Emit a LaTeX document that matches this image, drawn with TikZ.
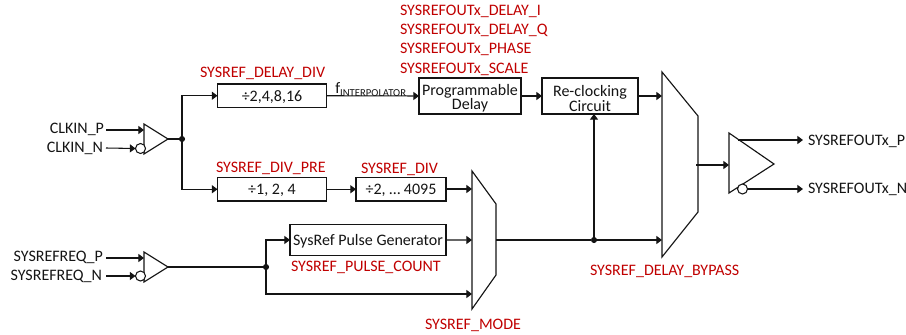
\documentclass[tikz,border=0pt]{standalone}
\usepackage{fontspec}
\setmainfont{Carlito}
\usetikzlibrary{arrows.meta}
\definecolor{regred}{RGB}{192,0,0}
\definecolor{ink}{RGB}{20,20,20}
\tikzset{
  x=0.75pt,y=-0.75pt,
  every node/.style={font=\fontsize{12pt}{13pt}\selectfont,text=ink,inner sep=0pt,outer sep=0pt,text height=10.2pt,text depth=1.8pt},
  wire/.style={draw=ink,line width=0.8pt,-{Triangle[length=4.2pt,width=6pt]}},
  plainwire/.style={draw=ink,line width=0.8pt},
  outline/.style={draw=ink,line width=0.85pt,fill=white,line join=miter},
  blockbox/.style={outline,anchor=north west,align=center},
  bubble/.style={circle,draw=ink,line width=0.8pt,fill=white,minimum size=7.5pt,text height=,text depth=},
  junction/.style={circle,fill=ink,minimum size=4.6pt,text height=,text depth=},
  reglabel/.style={text=regred},
}
\begin{document}
\begin{tikzpicture}
\useasboundingbox (0,0) rectangle (906,335);
% --- anchor points
\coordinate (clkp) at (106,130);
\coordinate (clkn) at (106,148);
\coordinate (refp) at (106,258);
\coordinate (refn) at (106,276);
\coordinate (buf1t) at (144,124); \coordinate (buf1tip) at (168,139); \coordinate (buf1b) at (144,154);
\coordinate (buf2t) at (144,252); \coordinate (buf2tip) at (168,267); \coordinate (buf2b) at (144,282);
\coordinate (buf1p) at (144,130); \coordinate (buf2p) at (144,258);
\coordinate (mxa1) at (472,171); \coordinate (mxa2) at (496,204); \coordinate (mxa3) at (496,275); \coordinate (mxa4) at (472,309);
\coordinate (mxai1) at (472,189); \coordinate (mxai2) at (472,240); \coordinate (mxai3) at (472,294); \coordinate (mxao) at (496,240);
\coordinate (mxb1) at (662,72); \coordinate (mxb2) at (698,116); \coordinate (mxb3) at (698,212); \coordinate (mxb4) at (662,257);
\coordinate (mxbi1) at (662,96); \coordinate (mxbi2) at (662,240); \coordinate (mxbo) at (696,165);
\coordinate (ot) at (729,133); \coordinate (otip) at (774,164); \coordinate (ob) at (729,193);
\coordinate (oin) at (729,165); \coordinate (oq) at (738,140);
\coordinate (outp) at (803,140); \coordinate (outn) at (803,189);
% --- shapes
\draw[outline] (buf1t) -- (buf1tip) -- (buf1b) -- cycle;
\draw[outline] (buf2t) -- (buf2tip) -- (buf2b) -- cycle;
\draw[outline] (mxa1) -- (mxa2) -- (mxa3) -- (mxa4) -- cycle;
\draw[outline] (mxb1) -- (mxb2) -- (mxb3) -- (mxb4) -- cycle;
\draw[outline] (ot) -- (otip) -- (ob) -- cycle;
\node[blockbox,minimum width=81.75pt,minimum height=17.6pt] (d1) at (217.5,84) {÷2,4,8,16};
\node[blockbox,minimum width=81.75pt,minimum height=17.6pt] (d2) at (217.5,177.5) {÷1, 2, 4};
\node[blockbox,minimum width=67.5pt,minimum height=17.6pt] (d3) at (356,177.5) {÷2, … 4095};
\node[blockbox,minimum width=117pt,minimum height=23.2pt] (pg) at (290,224.5) {SysRef Pulse Generator};
\node[blockbox,minimum width=76.5pt,minimum height=27pt,text height=,text depth=] (pd) at (419,78) {\rule{0pt}{12pt}Programmable\\[-2.3pt]Delay};
\node[blockbox,minimum width=72pt,minimum height=27pt,text height=,text depth=] (rc) at (542,78) {\rule{0pt}{12pt}Re-clocking\\[-2.3pt]Circuit};
\node[bubble] (b1) at (140.5,148.5) {};
\node[bubble] (b2) at (140.5,276) {};
\node[bubble] (b3) at (742.5,189) {};
\node[junction] (j1) at (182,139) {};
\node[junction] (j2) at (266,267) {};
\node[junction] (j3) at (594,240) {};
% --- connectors
\draw[wire] (clkp) -- (buf1p);
\draw[wire] (clkn) -- (b1.west);
\draw[wire] (refp) -- (buf2p);
\draw[wire] (refn) -- (b2.west);
\draw[plainwire] (buf1tip) -- (j1);
\draw[wire] (j1) |- (d1.west);
\draw[wire] (j1) |- (d2.west);
\draw[wire] (d2.east) -- (d3.west);
\draw[wire] (d3.east |- mxai1) -- (mxai1);
\draw[plainwire] (buf2tip) -- (j2);
\draw[wire] (j2) |- (pg.west);
\draw[wire] (j2) |- (mxai3);
\draw[wire] (pg.east) -- (mxai2);
\draw[wire] (d1.east) -- node[pos=0.5,above=0.6pt,xshift=-1.3pt,text height=10pt,text depth=1pt]{f\textsubscript{\fontsize{8pt}{9pt}\selectfont INTERPOLATOR}} (pd.west);
\draw[wire] (pd.east) -- (rc.west);
\draw[wire] (rc.east) -- (mxbi1);
\draw[plainwire] (mxao) -- (j3);
\draw[wire] (j3) -- (mxbi2);
\draw[wire] (j3) -- (rc.south -| j3);
\draw[wire] (mxbo) -- (oin);
\draw[wire] (oq) -- (outp);
\draw[wire] (b3.east) -- (outn);
% --- black labels
\node[anchor=east] (l1) at (104,128) {CLKIN\_P};
\node[anchor=east] (l2) at (103,147) {CLKIN\_N};
\node[anchor=east] (l3) at (103,256) {SYSREFREQ\_P};
\node[anchor=east] (l4) at (102,275) {SYSREFREQ\_N};
\node[anchor=west] (l5) at (808,140) {SYSREFOUTx\_P};
\node[anchor=west] (l6) at (808,188) {SYSREFOUTx\_N};
% --- register labels
\node[reglabel,anchor=west] (r1) at (400,10) {SYSREFOUTx\_DELAY\_I};
\node[reglabel,anchor=west] (r2) at (400,29) {SYSREFOUTx\_DELAY\_Q};
\node[reglabel,anchor=west] (r3) at (400,48) {SYSREFOUTx\_PHASE};
\node[reglabel,anchor=west] (r4) at (400,68) {SYSREFOUTx\_SCALE};
\node[reglabel,anchor=west] (r5) at (200,72) {SYSREF\_DELAY\_DIV};
\node[reglabel,anchor=west] (r6) at (216,167) {SYSREF\_DIV\_PRE};
\node[reglabel,anchor=west] (r7) at (361,168) {SYSREF\_DIV};
\node[reglabel,anchor=west] (r8) at (291,266) {SYSREF\_PULSE\_COUNT};
\node[reglabel,anchor=west] (r9) at (425,324) {SYSREF\_MODE};
\node[reglabel,anchor=west] (r10) at (590,270) {SYSREF\_DELAY\_BYPASS};
\end{tikzpicture}
\end{document}
